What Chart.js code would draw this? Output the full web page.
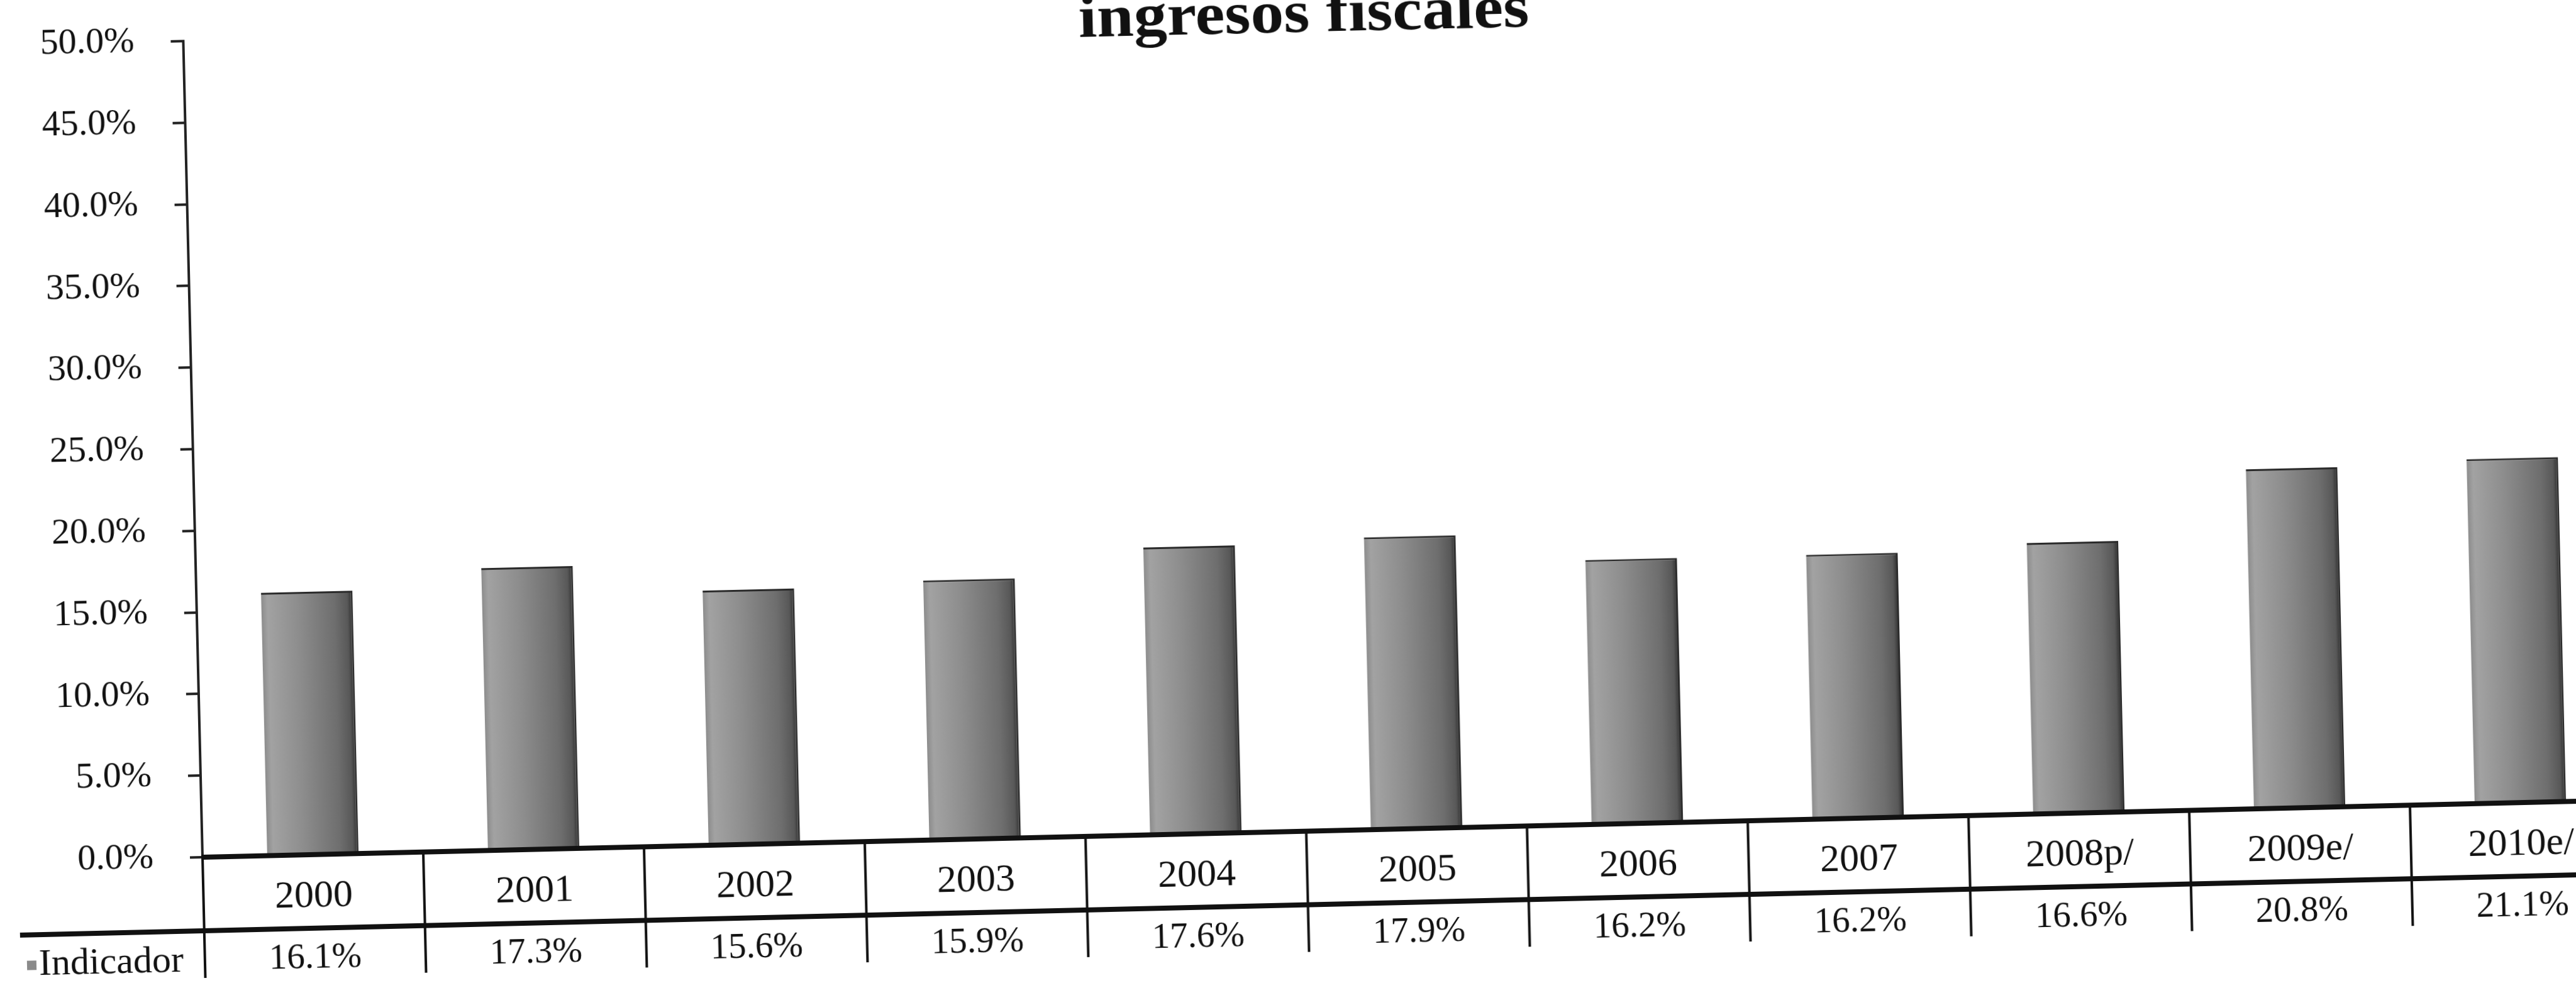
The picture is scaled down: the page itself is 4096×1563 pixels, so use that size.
<!DOCTYPE html>
<html>
<head>
<meta charset="utf-8">
<script src="https://cdn.jsdelivr.net/npm/chart.js@4.4.1/dist/chart.umd.min.js"></script>
<style>
  html, body { margin: 0; padding: 0; background: #fff; overflow: hidden; width: 4096px; height: 1563px; }
  /* the printed page sits slightly askew; pivot on the axis corner */
  canvas { position: absolute; left: 0; top: 0; transform-origin: 322px 1363px; transform: rotate(-1.35deg); }
</style>
</head>
<body>
<canvas id="chart" width="4190" height="1600"></canvas>
<script>
// Ingresos fiscales: indicator by year (% share)
const titleText = 'ingresos fiscales';
const seriesName = 'Indicador';
const categories = ['2000', '2001', '2002', '2003', '2004', '2005', '2006', '2007', '2008p/', '2009e/', '2010e/'];
const values = [16.1, 17.3, 15.6, 15.9, 17.6, 17.9, 16.2, 16.2, 16.6, 20.8, 21.1];
const yTickLabels = ['0.0%', '5.0%', '10.0%', '15.0%', '20.0%', '25.0%', '30.0%', '35.0%', '40.0%', '45.0%', '50.0%'];

const SERIF = '"Liberation Serif", "Times New Roman", serif';
const INK = '#111111';
const BAR_PCT = 0.415;

// cylinder-like grey shading across each column
function barFill(c) {
  const chart = c.chart;
  const xs = chart.scales && chart.scales.x;
  if (!xs || c.dataIndex === undefined || !chart.chartArea) return '#8a8a8a';
  const cx = xs.getPixelForValue(c.dataIndex);
  const w = xs.width / categories.length * BAR_PCT;
  const g = chart.ctx.createLinearGradient(cx - w / 2, 0, cx + w / 2, 0);
  g.addColorStop(0.00, '#8c8c8c');
  g.addColorStop(0.07, '#a2a2a2');
  g.addColorStop(0.40, '#8d8d8d');
  g.addColorStop(0.80, '#6e6e6e');
  g.addColorStop(0.94, '#585858');
  g.addColorStop(1.00, '#2a2a2a');
  return g;
}

// white page behind the chart
const paper = {
  id: 'paper',
  beforeDraw(chart) {
    const ctx = chart.ctx;
    ctx.save();
    ctx.fillStyle = '#ffffff';
    ctx.fillRect(0, 0, chart.width, chart.height);
    ctx.restore();
  }
};

// heading, its upper part running off the top edge
const heading = {
  id: 'heading',
  afterDraw(chart) {
    const ctx = chart.ctx;
    ctx.save();
    ctx.translate(2104, 92);
    ctx.scale(1.1, 1);
    ctx.font = 'bold 96px ' + SERIF;
    ctx.fillStyle = INK;
    ctx.textAlign = 'center';
    ctx.textBaseline = 'alphabetic';
    ctx.fillText(titleText, 0, 0);
    ctx.restore();
  }
};

// data table under the axis: year cells and the value row
const dataTable = {
  id: 'dataTable',
  afterDraw(chart) {
    const ctx = chart.ctx;
    const area = chart.chartArea;
    const xs = chart.scales.x;
    const n = categories.length;
    const cell = xs.width / n;
    const base = area.bottom;
    const yearLine = base + 117;
    const valueY = base + 165;
    const sepBottom = base + 192;

    ctx.save();
    ctx.strokeStyle = INK;
    ctx.lineCap = 'butt';

    // vertical cell borders (first one continues the value axis)
    ctx.lineWidth = 4;
    for (let i = 0; i <= n; i++) {
      const x = xs.getPixelForValue(0) - cell / 2 + i * cell;
      ctx.beginPath();
      ctx.moveTo(x, base);
      ctx.lineTo(x, sepBottom);
      ctx.stroke();
    }

    // zero line and the rule under the year row
    ctx.lineWidth = 8;
    ctx.beginPath();
    ctx.moveTo(area.left - 2, base);
    ctx.lineTo(chart.width, base);
    ctx.stroke();
    ctx.beginPath();
    ctx.moveTo(29, yearLine);
    ctx.lineTo(chart.width, yearLine);
    ctx.stroke();

    // values row
    ctx.fillStyle = INK;
    ctx.font = '57px ' + SERIF;
    ctx.textAlign = 'center';
    ctx.textBaseline = 'middle';
    values.forEach((v, i) => {
      ctx.fillText(v.toFixed(1) + '%', xs.getPixelForValue(i), valueY);
    });

    // series key and name
    ctx.fillStyle = '#8a8a8a';
    ctx.fillRect(39, valueY - 7, 15, 15);
    ctx.fillStyle = INK;
    ctx.font = '60px ' + SERIF;
    ctx.textAlign = 'left';
    ctx.fillText(seriesName, 58, valueY);
    ctx.restore();
  }
};

new Chart(document.getElementById('chart'), {
  type: 'bar',
  data: {
    labels: categories,
    datasets: [{
      label: seriesName,
      data: values,
      backgroundColor: barFill,
      borderColor: '#2a2a2a',
      borderWidth: { top: 3, right: 3, left: 0, bottom: 0 },
      borderSkipped: 'start',
      barPercentage: BAR_PCT,
      categoryPercentage: 1.0
    }]
  },
  options: {
    responsive: false,
    animation: false,
    devicePixelRatio: 1,
    layout: { padding: { left: 0, top: 65, right: 6, bottom: 137 } },
    plugins: {
      legend: { display: false },
      tooltip: { enabled: false },
      title: { display: false }
    },
    scales: {
      x: {
        type: 'category',
        offset: true,
        grid: { display: false },
        border: { display: false },
        ticks: {
          autoSkip: false,
          maxRotation: 0,
          color: INK,
          padding: 22,
          font: { family: SERIF, size: 62, lineHeight: 1.2 }
        },
        afterFit(s) { s.height = 100; s.paddingLeft = 0; s.paddingRight = 0; }
      },
      y: {
        min: 0,
        max: 50,
        ticks: {
          stepSize: 5,
          color: INK,
          padding: 58,
          font: { family: SERIF, size: 58, lineHeight: 0.9 },
          callback: (v, i) => yTickLabels[i]
        },
        grid: { drawOnChartArea: false, drawTicks: true, tickLength: 20, color: '#222222', lineWidth: 4 },
        border: { display: true, color: '#222222', width: 4 },
        afterFit(s) { s.width = 322; s.paddingTop = 0; s.paddingBottom = 0; }
      }
    }
  },
  plugins: [paper, heading, dataTable]
});
</script>
</body>
</html>
